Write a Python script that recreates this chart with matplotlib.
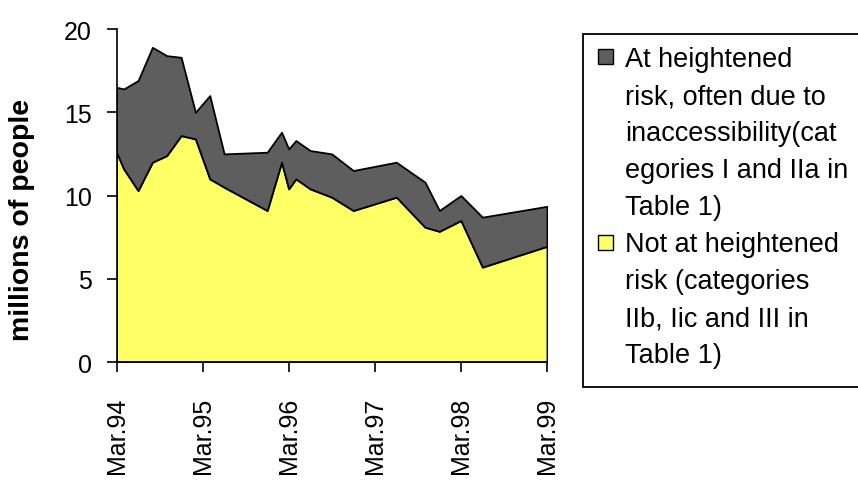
import matplotlib.pyplot as plt
from matplotlib.patches import Rectangle

plt.rcParams['font.family'] = ['Liberation Sans', 'DejaVu Sans']

# months counted from March 1994
months = [0, 1, 3, 5, 7, 9, 11, 13, 15, 21, 23, 24, 25, 27, 30, 33, 39, 43, 45, 48, 51, 60]
not_heightened = [12.6, 11.6, 10.3, 12.0, 12.4, 13.6, 13.4, 11.0, 10.5, 9.1, 12.0, 10.4,
                  11.0, 10.4, 9.9, 9.1, 9.9, 8.1, 7.85, 8.5, 5.7, 6.95]
heightened = [3.9, 4.8, 6.6, 6.9, 6.0, 4.7, 1.6, 5.0, 2.0, 3.5, 1.8, 2.4,
              2.3, 2.3, 2.6, 2.4, 2.1, 2.7, 1.25, 1.5, 3.0, 2.4]

tick_months = [0, 12, 24, 36, 48, 60]
tick_labels = ['Mar.94', 'Mar.95', 'Mar.96', 'Mar.97', 'Mar.98', 'Mar.99']
y_ticks = [0, 5, 10, 15, 20]

legend_lines = ['At heightened', 'risk, often due to', 'inaccessibility(cat',
                'egories I and IIa in', 'Table 1)',
                'Not at heightened', 'risk (categories', 'IIb, Iic and III in',
                'Table 1)']

yellow = '#ffff66'
grey = '#5e5e5e'

fig = plt.figure(figsize=(8.58, 4.81), dpi=100)
ax = fig.add_axes([0.1358, 0.2453, 0.5017, 0.6923])

ax.stackplot(months, not_heightened, heightened, colors=[yellow, grey],
             edgecolor='black', linewidth=1.3)

ax.set_xlim(0, 60)
ax.set_ylim(0, 20)
ax.set_xticks(tick_months)
ax.set_xticklabels(tick_labels, rotation=90, fontsize=18)
ax.set_yticks(y_ticks)
ax.set_yticklabels([str(v) for v in y_ticks], fontsize=18)
ax.tick_params(axis='y', direction='out', length=7, width=1.2, pad=11)
ax.tick_params(axis='x', direction='out', length=7, width=1.2, pad=18)
ax.spines['top'].set_visible(False)
ax.spines['right'].set_visible(False)
ax.spines['left'].set_linewidth(1.2)
ax.spines['bottom'].set_linewidth(1.2)
ax.set_ylabel('millions of people', fontsize=20.5, fontweight='bold')
ax.yaxis.set_label_coords(-0.19, 0.43)

# legend drawn by hand so each swatch sits on the first line of its entry
fig.patches.append(Rectangle((583 / 858, 1 - 388 / 481), 0.5, 353 / 481,
                             transform=fig.transFigure, facecolor='white',
                             edgecolor='black', linewidth=1.3))
fig.patches.append(Rectangle((598 / 858, 1 - 65 / 481), 15 / 858, 15 / 481,
                             transform=fig.transFigure, facecolor=grey,
                             edgecolor='black', linewidth=1.0))
fig.patches.append(Rectangle((598 / 858, 1 - 251 / 481), 15 / 858, 15 / 481,
                             transform=fig.transFigure, facecolor=yellow,
                             edgecolor='black', linewidth=1.0))
line_step = 37
for i, line in enumerate(legend_lines):
    fig.text(625 / 858, 1 - (57 + i * line_step) / 481, line, fontsize=19.5,
             va='center_baseline', ha='left')

fig.savefig('out.png', dpi=100)
